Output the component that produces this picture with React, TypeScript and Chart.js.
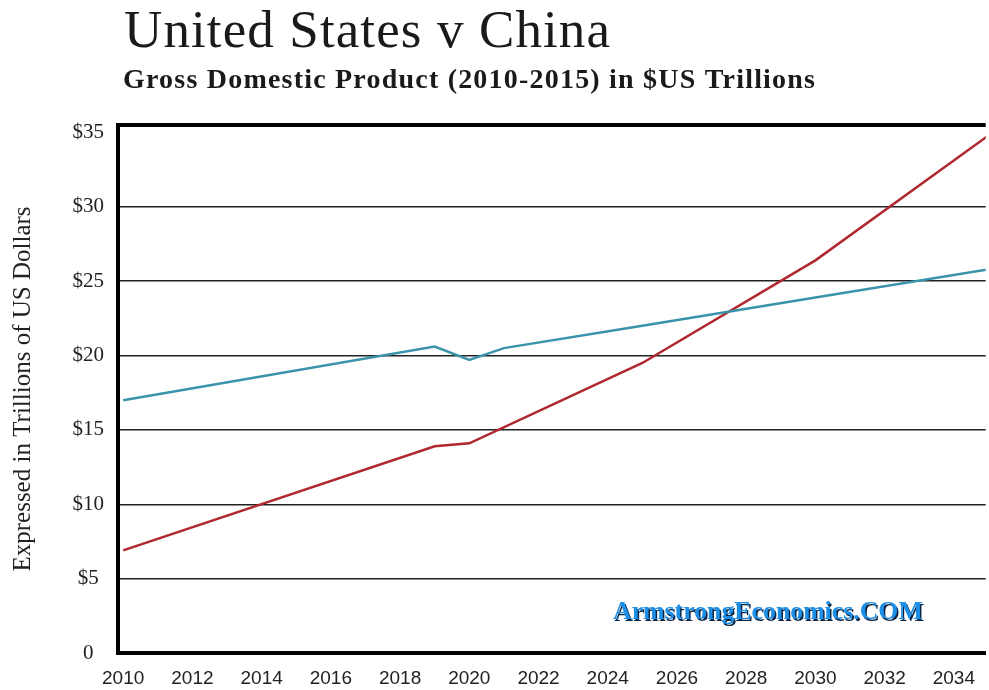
import { useEffect, useRef } from "react";
import { Chart, registerables } from "chart.js";

Chart.register(...registerables);

const TITLE = "United States v China";
const SUBTITLE = "Gross Domestic Product (2010-2015) in $US Trillions";
const Y_TITLE = "Expressed in Trillions of US Dollars";
const WATERMARK = "ArmstrongEconomics.COM";

const usYears = [2010, 2019, 2020, 2021, 2025, 2030, 2035];
const usGdp = [17.0, 20.6, 19.7, 20.5, 22.0, 23.9, 25.8];
const chinaYears = [2010, 2019, 2020, 2025, 2030, 2035];
const chinaGdp = [6.9, 13.9, 14.1, 19.5, 26.4, 34.8];

const xTicks = [2010, 2012, 2014, 2016, 2018, 2020, 2022, 2024, 2026, 2028, 2030, 2032, 2034];
const yTicks = [0, 5, 10, 15, 20, 25, 30, 35];

// draw text with a given font size, spread with letter spacing to reach a target width
const drawSpread = (
  ctx: any,
  text: string,
  font: string,
  target: number,
  x: number,
  y: number
) => {
  ctx.font = font;
  ctx.letterSpacing = "0px";
  const w = ctx.measureText(text).width;
  const ls = (target - w) / (text.length - 1);
  ctx.letterSpacing = `${ls}px`;
  ctx.fillText(text, x, y);
  ctx.letterSpacing = "0px";
};

const decor = {
  id: "decor",
  afterDraw(chart: any) {
    const { ctx, chartArea: a } = chart;
    ctx.save();
    // top frame line
    ctx.strokeStyle = "#000";
    ctx.lineWidth = 4;
    ctx.beginPath();
    ctx.moveTo(a.left - 2, a.top);
    ctx.lineTo(a.right, a.top);
    ctx.stroke();

    ctx.textAlign = "left";
    ctx.textBaseline = "alphabetic";
    const fam = "'Liberation Serif', serif";

    ctx.fillStyle = "#1a1a1a";
    drawSpread(ctx, TITLE, `normal 53px ${fam}`, 486, 124, 47);
    drawSpread(ctx, SUBTITLE, `bold 28px ${fam}`, 692, 123, 88);

    // watermark
    ctx.font = `bold 100px ${fam}`;
    const s = (100 * 310) / ctx.measureText(WATERMARK).width;
    ctx.font = `bold ${s}px ${fam}`;
    ctx.shadowColor = "#0b2545";
    ctx.shadowOffsetX = 1.5;
    ctx.shadowOffsetY = 1.5;
    ctx.shadowBlur = 0;
    ctx.fillStyle = "#1d8fe6";
    ctx.fillText(WATERMARK, 613, 619);
    ctx.restore();
  },
};

export default function App() {
  const ref = useRef<HTMLCanvasElement | null>(null);

  useEffect(() => {
    if (!ref.current) return;
    const chart = new Chart(ref.current, {
      type: "line",
      data: {
        datasets: [
          {
            label: "United States",
            data: usYears.map((x, i) => ({ x, y: usGdp[i] })),
            borderColor: "#3b93aa",
            borderWidth: 2.5,
            pointRadius: 0,
            tension: 0,
          },
          {
            label: "China",
            data: chinaYears.map((x, i) => ({ x, y: chinaGdp[i] })),
            borderColor: "#b0282f",
            borderWidth: 2.5,
            pointRadius: 0,
            tension: 0,
          },
        ],
      },
      options: {
        animation: false,
        responsive: true,
        maintainAspectRatio: false,
        layout: { padding: { top: 125, left: 0, right: 0, bottom: 0 } },
        plugins: {
          legend: { display: false },
          tooltip: { enabled: false },
        },
        scales: {
          x: {
            type: "linear",
            min: 2009.85,
            max: 2034.92,
            afterBuildTicks: (s: any) => {
              s.ticks = xTicks.map((v) => ({ value: v }));
            },
            afterFit: (s: any) => {
              s.height = 37;
            },
            grid: { display: false, drawTicks: false },
            border: { display: true, color: "#000", width: 4 },
            ticks: {
              padding: 14,
              autoSkip: false,
              maxRotation: 0,
              color: "#222",
              font: { family: "'Liberation Sans', Arial, sans-serif", size: 19 },
              callback: (v: any) => String(v),
            },
          },
          y: {
            type: "linear",
            min: 0,
            max: 35.5,
            afterBuildTicks: (s: any) => {
              s.ticks = yTicks.map((v) => ({ value: v }));
            },
            afterFit: (s: any) => {
              s.width = 118;
            },
            grid: {
              color: (c: any) => (c.tick && c.tick.value === 35 ? "rgba(0,0,0,0)" : "#222"),
              lineWidth: 1.5,
              drawTicks: false,
            },
            border: { display: true, color: "#000", width: 4 },
            ticks: {
              crossAlign: "center",
              padding: 14,
              color: "#222",
              font: { family: "'Liberation Serif', serif", size: 21 },
              callback: (v: any) => (v === 0 ? "0" : "$" + v),
            },
            title: {
              display: true,
              text: Y_TITLE,
              color: "#222",
              font: { family: "'Liberation Serif', serif", size: 25 },
              padding: { top: 8, bottom: 0 },
            },
          },
        },
      },
      plugins: [decor],
    });
    return () => chart.destroy();
  }, []);

  return (
    <div style={{ position: "fixed", left: 0, top: 0, width: 989, height: 690, background: "#fff" }}>
      <canvas ref={ref} />
    </div>
  );
}
